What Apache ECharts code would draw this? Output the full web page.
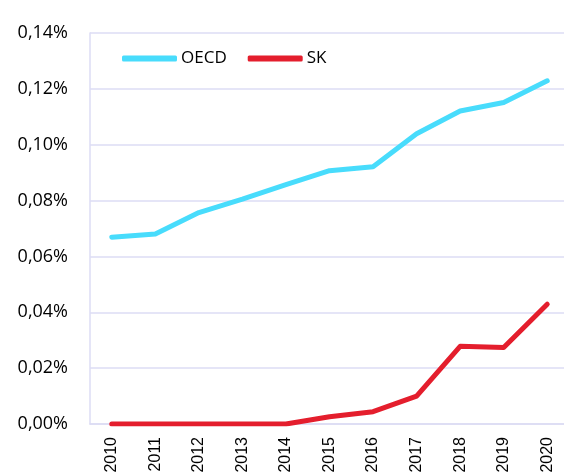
<!DOCTYPE html>
<html>
<head>
<meta charset="utf-8">
<script src="https://cdn.jsdelivr.net/npm/echarts@6/dist/echarts.min.js"></script>
<style>
html,body{margin:0;padding:0;background:#fff;}
#c{width:564px;height:472px;}
</style>
</head>
<body>
<div id="c"></div>
<script>
const years = ['2010','2011','2012','2013','2014','2015','2016','2017','2018','2019','2020'];
const oecd = [0.0669, 0.0680, 0.0757, 0.0805, 0.0857, 0.0907, 0.0921, 0.1039, 0.1121, 0.1151, 0.1229];
const sk = [0, 0, 0, 0, 0, 0.0026, 0.0044, 0.0100, 0.0278, 0.0274, 0.0429];
const yTicks = [0, 0.02, 0.04, 0.06, 0.08, 0.10, 0.12, 0.14];

const gridColor = '#dcdcf4';
const chart = echarts.init(document.getElementById('c'), null, {renderer:'canvas'});
chart.setOption({
  animation: false,
  backgroundColor: '#ffffff',
  grid: {left: 90, right: -5, top: 33, bottom: 48, containLabel: false, outerBoundsMode: 'none'},
  legend: {
    left: 117, top: 45, padding: 5,
    itemWidth: 55, itemHeight: 6, itemGap: 21,
    icon: 'roundRect',
    textStyle: {fontFamily: 'Open Sans', fontSize: 17, color: '#000', padding: [0,0,0,-1]},
    data: ['OECD', 'SK']
  },
  xAxis: {
    type: 'category',
    data: years,
    boundaryGap: true,
    axisLine: {show: true, lineStyle: {color: gridColor, width: 1.5}},
    axisTick: {show: false},
    axisLabel: {rotate: 90, margin: 13, fontFamily: 'Liberation Sans', fontSize: 16, color: '#000', interval: 0}
  },
  yAxis: {
    type: 'value',
    min: yTicks[0], max: yTicks[yTicks.length-1], interval: 0.02,
    axisLine: {show: true, lineStyle: {color: gridColor, width: 1.5}},
    axisTick: {show: false},
    splitLine: {show: true, lineStyle: {color: gridColor, width: 1.5}},
    axisLabel: {
      margin: 22, fontFamily: 'Open Sans', fontSize: 18, color: '#000',
      formatter: v => v.toFixed(2).replace('.', ',') + '%'
    }
  },
  series: [
    {name: 'OECD', type: 'line', data: oecd, symbol: 'none', color: '#48dcfc',
     lineStyle: {width: 5, color: '#48dcfc', cap: 'round', join: 'round'}},
    {name: 'SK', type: 'line', data: sk, symbol: 'none', color: '#e41e2d',
     lineStyle: {width: 5, color: '#e41e2d', cap: 'round', join: 'round'}}
  ]
});
</script>
</body>
</html>
